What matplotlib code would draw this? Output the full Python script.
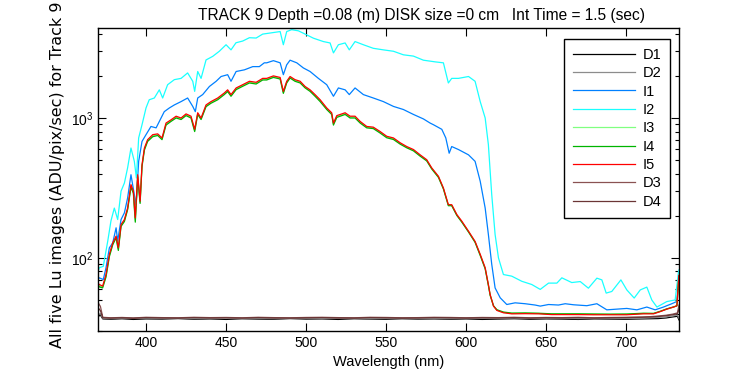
import matplotlib
matplotlib.use('Agg')
import matplotlib.pyplot as plt
import numpy as np

plt.rcParams['font.family'] = ['Liberation Sans', 'DejaVu Sans']
plt.rcParams['mathtext.default'] = 'regular'

# ---- data (wavelength in nm, Lu in ADU/pix/sec) ----
wl_i2 = [370, 370.8, 373.3, 376.1, 378.1, 380.2, 382.3, 384.4, 386.5, 388.5,
         390.6, 392.7, 394, 395.4, 397.5, 400, 402, 405.2, 408.3, 410.4,
         413.5, 417.7, 421.9, 426, 429.2, 430.4, 432.3, 434.4, 437.5, 441.7,
         445.8, 450, 453.1, 456.2, 460.4, 464.6, 468.8, 472.9, 477.5, 483.8,
         485.8, 487.9, 491, 495.2, 499.4, 504.6, 510.8, 515, 517.1, 520.2,
         524.4, 527, 530.6, 535.8, 542, 548.3, 554.6, 560.8, 567.1, 573.3,
         577.5, 580.6, 585.8, 588.9, 591, 595.2, 601.5, 605.6, 608.8, 611.9,
         613.9, 616, 618.1, 620.2, 623.3, 628.5, 634.8, 641, 646.3, 651.5,
         656.7, 659.8, 666, 671.3, 676.4, 681.7, 684.8, 687.5, 691, 696.7,
         700.4, 705, 708.8, 712.9, 716, 719.2, 725.4, 730.6, 732.7, 733]
i2 = [80, 85, 87, 132, 184, 227, 188, 300, 343, 440,
      610, 490, 372, 720, 895, 1180, 1350, 1390, 1590, 1390,
      1730, 1880, 1920, 2100, 1830, 1550, 2150, 1920, 2600, 2760,
      3000, 3340, 3070, 3450, 3550, 3750, 3730, 3980, 4050, 4150,
      3340, 4150, 4280, 4200, 3980, 3720, 3520, 3440, 2920, 3340,
      3440, 3070, 3520, 3340, 3150, 3070, 3000, 2830, 2770, 2590,
      2550, 2520, 2480, 1780, 1920, 1920, 1980, 1830, 1310, 1000,
      645, 283, 147, 100, 76, 74, 68, 64.5, 59.5, 66,
      66, 72, 66.6, 67.7, 60.7, 71.6, 69.6, 56, 57.5, 69.6,
      59, 51.6, 59, 61.8, 50, 44.5, 48.7, 50, 80, 82]

wl_i1 = [370, 370.8, 373.3, 375, 377.1, 379.2, 381.3, 382.3, 384.4, 386.5,
         388.5, 390.6, 392.7, 393.8, 395.4, 397.5, 400, 403.1, 406.3, 409.4,
         411.4, 414.6, 417.7, 421.9, 426, 429.2, 430.8, 432.3, 435.4, 439.6,
         443.8, 446.9, 451, 453.1, 456.3, 461.5, 466.7, 470.8, 473.9, 475.4,
         479.6, 483.8, 485.8, 487.9, 490, 494.2, 498.3, 502.5, 507.7, 512.9,
         517.1, 520.2, 524.4, 527, 530.6, 535.8, 542, 548.3, 554.6, 560.8,
         567.1, 573.3, 577.5, 579.6, 584.8, 587.3, 589.4, 591, 595.2, 601.5,
         605.6, 608.8, 611.9, 613.9, 616, 618.1, 621.3, 625.4, 630.6, 636.9,
         643.1, 646.3, 651.5, 657.7, 661.9, 667.1, 675.4, 681.7, 687.9, 694.2,
         700.4, 706.7, 712.9, 718.1, 723.3, 728.5, 731.7, 732.9]
i1 = [70, 72, 70, 85, 118, 128, 164, 132, 188, 210,
      268, 393, 283, 240, 490, 680, 760, 870, 850, 1000,
      1110, 1180, 1240, 1310, 1390, 1210, 1110, 1390, 1470, 1680,
      1830, 1980, 2040, 1830, 2150, 2210, 2330, 2330, 2480, 2480,
      2570, 2480, 2040, 2400, 2590, 2480, 2280, 2150, 1920, 1730,
      1430, 1640, 1590, 1470, 1640, 1470, 1390, 1310, 1210, 1150,
      1060, 985, 920, 895, 830, 720, 560, 625, 595, 545,
      490, 353, 227, 147, 90, 61, 51.8, 46.4, 47.7, 47,
      46, 45.2, 46.4, 46, 47, 46.2, 45.5, 47, 42.5, 43,
      43.5, 42.5, 44.5, 42.5, 44.5, 47, 48.8, 73.5]

wl_i5 = [370, 370.8, 372.9, 375, 377.1, 379.2, 381.3, 382.7, 384.4, 386.5,
         388.5, 390.6, 392.1, 393.3, 394.8, 396.3, 397.5, 399, 401, 404.2,
         407.3, 410, 412.5, 415.6, 418.8, 421.9, 425, 428.1, 430.4, 432.3,
         434.4, 437.5, 440.6, 444.8, 448.9, 451, 453.1, 456.3, 460.4, 464.6,
         468.8, 472.9, 475.4, 479.6, 483.8, 485.8, 487.9, 490, 493.1, 496.3,
         499.4, 502.5, 505.6, 508.8, 512.9, 516, 517.1, 519.2, 524.4, 527.5,
         530.6, 533.8, 537.9, 542, 546.3, 550.4, 554.6, 558.8, 562.9, 567.1,
         571.3, 575.4, 578.5, 582.7, 585.8, 588.9, 591, 594.2, 597.3, 601.5,
         605.6, 608.8, 611.9, 613.9, 615, 617.1, 619.2, 623.3, 628.5, 636.9,
         645.2, 653.5, 661.9, 670.2, 679.6, 690, 700.4, 710.8, 717.1, 721.3,
         725.4, 729.6, 731.7, 732.9]
i5 = [66, 64.5, 62.8, 76, 106, 128, 143, 118, 173, 188,
      227, 334, 300, 193, 393, 254, 464, 610, 700, 760,
      770, 720, 920, 970, 1030, 1000, 1070, 1030, 830, 1090,
      1000, 1240, 1310, 1390, 1510, 1590, 1470, 1640, 1730, 1830,
      1800, 1920, 1920, 2000, 1950, 1550, 1830, 1980, 1880, 1830,
      1680, 1590, 1470, 1350, 1180, 1090, 920, 1040, 1090, 1030,
      1030, 945, 870, 860, 800, 740, 720, 665, 625, 595,
      545, 503, 440, 383, 316, 240, 240, 204, 183, 155,
      131, 106, 85, 64.5, 54.7, 45.2, 42.1, 40.5, 39.8, 39.9,
      39.8, 39.3, 39.3, 39.3, 39.2, 39.2, 39.2, 39.8, 39.8, 41.3,
      43, 44.5, 45.5, 75]
i4 = [64, 62, 61, 73, 102, 124, 139, 113, 168, 182,
      221, 320, 290, 180, 380, 245, 450, 590, 680, 735,
      750, 700, 890, 945, 1000, 975, 1040, 1000, 800, 1060,
      975, 1205, 1275, 1350, 1470, 1545, 1430, 1595, 1685, 1780,
      1750, 1870, 1870, 1950, 1900, 1500, 1780, 1930, 1830, 1780,
      1640, 1550, 1430, 1310, 1150, 1060, 890, 1010, 1060, 1000,
      1000, 920, 850, 840, 780, 722, 702, 650, 612, 582,
      533, 493, 432, 376, 311, 236, 236, 201, 180, 153,
      129, 104, 83.5, 63.5, 54, 45.5, 42.6, 41, 40.3, 40.4,
      40.2, 39.8, 39.8, 39.8, 39.7, 39.6, 39.7, 40.2, 40.1, 41.5,
      43.2, 44.6, 45.4, 74]
i3 = [65, 63, 62, 74, 104, 126, 141, 116, 170, 185,
      224, 327, 295, 186, 386, 250, 457, 600, 690, 748,
      760, 710, 905, 958, 1015, 988, 1055, 1015, 815, 1075,
      988, 1222, 1292, 1370, 1490, 1568, 1450, 1618, 1708, 1805,
      1775, 1895, 1895, 1975, 1925, 1525, 1805, 1955, 1855, 1805,
      1660, 1570, 1450, 1330, 1165, 1075, 905, 1025, 1075, 1015,
      1015, 932, 860, 850, 790, 731, 711, 657, 618, 588,
      539, 498, 436, 380, 313, 238, 238, 202, 181, 154,
      130, 105, 84, 64, 54.3, 45.3, 42.3, 40.7, 40, 40.1,
      40, 39.5, 39.5, 39.5, 39.4, 39.4, 39.4, 40, 40, 41.4,
      43.1, 44.5, 45.4, 74.5]

wl_dark = [370, 371.5, 373, 378, 385, 392, 400, 410, 420, 430,
           440, 450, 460, 470, 480, 490, 500, 510, 520, 530,
           540, 550, 560, 570, 580, 590, 600, 610, 620, 630,
           640, 650, 660, 670, 680, 690, 700, 710, 715, 720,
           725, 729, 732, 733]
d1 = [38, 39, 36.6, 36.4, 36.7, 36.3, 36.6, 36.5, 36.8, 36.4,
      36.6, 36.3, 36.7, 36.5, 36.4, 36.8, 36.5, 36.6, 36.3, 36.7,
      36.5, 36.4, 36.7, 36.5, 36.6, 36.4, 36.6, 36.3, 36.5, 36.7,
      36.4, 36.6, 36.5, 36.3, 36.6, 36.5, 36.4, 36.6, 36.7, 36.8,
      37.2, 37.8, 38.2, 36]
d2 = [39, 40, 37.0, 36.8, 37.1, 36.9, 37.2, 36.9, 37.1, 36.8,
      37.0, 37.2, 36.9, 37.1, 36.8, 37.0, 37.2, 36.9, 37.0, 37.1,
      36.8, 37.0, 37.2, 36.9, 37.0, 36.8, 37.1, 37.0, 36.9, 37.2,
      36.9, 37.0, 37.1, 36.8, 37.0, 37.1, 36.9, 37.1, 37.3, 37.5,
      37.9, 38.5, 39.0, 37]
d3 = [48, 45, 37.6, 37.3, 37.5, 37.2, 37.6, 37.4, 37.3, 37.6,
      37.4, 37.5, 37.3, 37.6, 37.4, 37.3, 37.5, 37.6, 37.4, 37.3,
      37.6, 37.5, 37.3, 37.4, 37.6, 37.5, 37.3, 37.5, 37.4, 37.6,
      37.3, 37.5, 37.4, 37.6, 37.3, 37.5, 37.6, 37.8, 38.0, 38.4,
      38.9, 39.6, 40.4, 46]
d4 = [44, 42, 37.3, 37.1, 37.3, 37.0, 37.4, 37.2, 37.1, 37.4,
      37.2, 37.3, 37.1, 37.4, 37.2, 37.1, 37.3, 37.4, 37.2, 37.1,
      37.4, 37.3, 37.1, 37.2, 37.4, 37.3, 37.1, 37.3, 37.2, 37.4,
      37.1, 37.3, 37.2, 37.4, 37.1, 37.3, 37.4, 37.6, 37.8, 38.1,
      38.6, 39.2, 39.9, 43]

series = [
    ('D1', wl_dark, d1, '#000000'),
    ('D2', wl_dark, d2, '#8c8c8c'),
    ('I1', wl_i1, i1, '#0080ff'),
    ('I2', wl_i2, i2, '#19ffff'),
    ('I3', wl_i5, i3, '#80ff80'),
    ('I4', wl_i5, i4, '#00b400'),
    ('I5', wl_i5, i5, '#ff0000'),
    ('D3', wl_dark, d3, '#8a5252'),
    ('D4', wl_dark, d4, '#6b3535'),
]

fig = plt.figure(figsize=(7.5, 3.75), dpi=100)
ax = fig.add_axes([98 / 750, 44 / 375, 581 / 750, 303 / 375])

for name, wl, vals, col in series:
    ax.plot(wl, vals, color=col, lw=0.9, label=name)

ax.set_yscale('log')
ax.set_xlim(370, 733)
ax.set_ylim(30, 4400)
ax.set_xticks([400, 450, 500, 550, 600, 650, 700])
ax.tick_params(which='both', direction='in', top=True, right=True,
               labelsize=10, width=0.8)
ax.tick_params(which='major', length=5.5)
ax.tick_params(which='minor', length=3)
for sp in ax.spines.values():
    sp.set_linewidth(1.0)

ax.set_xlabel('Wavelength (nm)', fontsize=10.5, labelpad=4)
ax.set_title('TRACK 9 Depth =0.08 (m) DISK size =0 cm   Int Time = 1.5 (sec)',
             fontsize=11.2, pad=6, x=(421 - 98) / 581)
fig.text(58 / 750, 27 / 375, 'All five Lu images (ADU/pix/sec) for Track 9',
         rotation=90, ha='center', va='bottom', fontsize=11.5,
         family=['DejaVu Sans'])

leg = ax.legend(loc='upper right', bbox_to_anchor=(670 / 750, 336 / 375),
                bbox_transform=fig.transFigure, borderaxespad=0,
                fancybox=False, edgecolor='black', framealpha=1,
                fontsize=10.5, handlelength=4.3, handletextpad=0.5,
                labelspacing=0.3, borderpad=0.6)
leg.get_frame().set_linewidth(1.0)

fig.savefig('out.png', dpi=100, facecolor='white')
